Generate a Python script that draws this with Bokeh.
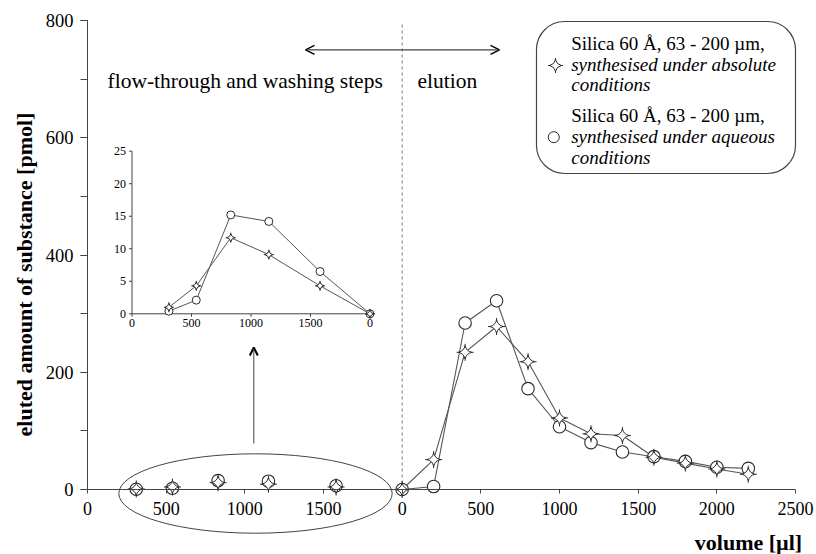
import numpy as np
from bokeh.plotting import figure
from bokeh.models import (Range1d, LinearAxis, FixedTicker, SingleIntervalTicker,
                          Label, Arrow, OpenHead, BoxAnnotation)
from bokeh.core.properties import value
from bokeh.embed import file_html
from bokeh.resources import INLINE

# ---------------- data ----------------
# flow-through and washing steps (volume in µl, amount in pmol)
ft_volume = [310, 540, 830, 1150, 1580]
ft_absolute = [1.0, 4.3, 11.7, 9.1, 4.3]
ft_aqueous = [0.4, 2.1, 15.2, 14.2, 6.5]

# elution (volume in µl, amount in pmol)
el_volume = [0, 200, 400, 600, 800, 1000, 1200, 1400, 1600, 1800, 2000, 2200]
el_absolute = [0, 51, 234, 278, 218, 122, 95, 92, 55, 45, 35, 26]
el_aqueous = [0, 5, 284, 322, 172, 107, 80, 64, 56, 48, 38, 36]

# the elution axis restarts at 0 after 2000 µl of flow-through/washing
elution_offset = 2000

x_tick_values = [0, 500, 1000, 1500, 2000, 2500, 3000, 3500, 4000, 4500]
x_tick_labels = ["0", "500", "1000", "1500", "0", "500", "1000", "1500", "2000", "2500"]
inset_x_ticks = [0, 500, 1000, 1500, 2000]
inset_x_labels = ["0", "500", "1000", "1500", "0"]
inset_y_ticks = [0, 5, 10, 15, 20, 25]

legend_title = "Silica 60 Å, 63 - 200 µm,"
legend_abs = ["synthesised under absolute", "conditions"]
legend_aq = ["synthesised under aqueous", "conditions"]

# ---------------- layout constants (pixels) ----------------
W, H = 816, 554
AX_X0, AX_X1 = 87, 795      # pixel columns of x = 0 and x = 4500
AX_Y0, AX_Y1 = 489, 20      # pixel rows of y = 0 and y = 800
X_MAX, Y_MAX = 4500, 800
SX = (AX_X1 - AX_X0) / X_MAX
SY = (AX_Y0 - AX_Y1) / Y_MAX

def mx(px):
    return (px - AX_X0) / SX

def my(py):
    return (AX_Y0 - py) / SY

# inset placement
IX0, IX1 = 131.5, 369.5      # pixel columns of inset x = 0 and 2000
IY0, IY1 = 313.3, 150.7      # pixel rows of inset y = 0 and 25
ISX = (IX1 - IX0) / 2000
ISY = (IY0 - IY1) / 25

FONT = "Liberation Serif"
AX_COL = "#444444"
LINE_COL = "#555555"
MK_COL = "#2a2a2a"

p = figure(width=W, height=H, output_backend="svg", toolbar_location=None,
           x_range=Range1d(mx(0), mx(W)), y_range=Range1d(my(H), my(0)),
           x_axis_location=None, y_axis_location=None, min_border=0)
p.outline_line_color = None
p.grid.visible = False
p.background_fill_color = "white"
p.border_fill_color = "white"

p.extra_x_ranges = {"ix": Range1d((0 - IX0) / ISX, (W - IX0) / ISX)}
p.extra_y_ranges = {"iy": Range1d((IY0 - H) / ISY, (IY0 - 0) / ISY)}

# ---------------- axes ----------------
yaxis = LinearAxis(fixed_location=0,
                   ticker=SingleIntervalTicker(interval=200, num_minor_ticks=2),
                   bounds=(0, Y_MAX),
                   major_tick_out=7, minor_tick_out=7, major_tick_in=0, minor_tick_in=0,
                   major_label_standoff=7,
                   major_label_text_font=FONT, major_label_text_font_size="18.5px",
                   major_label_text_color="black",
                   axis_line_color=AX_COL, major_tick_line_color=AX_COL,
                   minor_tick_line_color=AX_COL)
p.add_layout(yaxis, "left")

xaxis = LinearAxis(fixed_location=0, ticker=FixedTicker(ticks=x_tick_values),
                   major_label_overrides={v: t for v, t in zip(x_tick_values, x_tick_labels)},
                   bounds=(0, X_MAX),
                   major_tick_out=4, major_tick_in=0, minor_tick_out=0, minor_tick_in=0,
                   major_label_standoff=8,
                   major_label_text_font=FONT, major_label_text_font_size="18px",
                   major_label_text_color="black",
                   axis_line_color=AX_COL, major_tick_line_color=AX_COL)
p.add_layout(xaxis, "below")

# dashed separator at start of elution
p.segment(x0=[elution_offset], y0=[0], x1=[elution_offset], y1=[my(23)],
          line_color="#777777", line_dash="3 3", line_width=1)

# ---------------- main series ----------------
el_x = [elution_offset + v for v in el_volume]
p.line(el_x, el_aqueous, line_color=LINE_COL, line_width=1.1)
p.line(el_x, el_absolute, line_color=LINE_COL, line_width=1.1)

def stars(x, y, big, **kw):
    # thin four-pointed star: fine cross spikes under a pinched square
    p.scatter(x, y, marker="cross", size=big, line_color=MK_COL, line_width=1, **kw)
    p.scatter(x, y, marker="square_pin", angle=np.pi / 4, size=big * 0.55,
              fill_color="white", line_color=MK_COL, line_width=1, **kw)

p.scatter(ft_volume, ft_aqueous, marker="circle", size=12.5, fill_color="white",
          line_color=MK_COL, line_width=1.1)
p.scatter(el_x, el_aqueous, marker="circle", size=12.5, fill_color="white",
          line_color=MK_COL, line_width=1.1)
stars(ft_volume, ft_absolute, 17)
stars(el_x, el_absolute, 17)

# ellipse around flow-through points and arrow to inset
p.ellipse(x=[mx(255)], y=[my(493)], width=[273.4 / SX], height=[79.4 / SY],
          fill_color=None, line_color=AX_COL, line_width=1)
p.add_layout(Arrow(x_start=mx(253.3), y_start=my(443), x_end=mx(253.3), y_end=my(347),
                   line_color=AX_COL, line_width=1,
                   end=OpenHead(size=8, line_width=2, line_color="black")))

# ---------------- inset ----------------
in_x = ft_volume + [elution_offset]
in_abs = ft_absolute + [0]
in_aq = ft_aqueous + [0]
kw = dict(x_range_name="ix", y_range_name="iy")
p.line(x=[0, 2000], y=[0, 0], line_color=AX_COL, line_width=1, **kw)
p.line(x=[0, 0], y=[0, 25], line_color=AX_COL, line_width=1, **kw)
p.segment(x0=inset_x_ticks, y0=[0] * 5, x1=inset_x_ticks, y1=[-3 / ISY] * 5,
          line_color=AX_COL, **kw)
p.segment(x0=[0] * 6, y0=inset_y_ticks, x1=[-3 / ISX] * 6, y1=inset_y_ticks,
          line_color=AX_COL, **kw)
p.text(x=inset_x_ticks, y=[0] * 5, text=inset_x_labels, text_align="center",
       text_baseline="top", y_offset=5, text_font=value(FONT), text_font_size="12px",
       text_color="black", **kw)
p.text(x=[0] * 6, y=inset_y_ticks, text=[str(t) for t in inset_y_ticks],
       text_align="right", text_baseline="middle", x_offset=-6,
       text_font=value(FONT), text_font_size="12px", text_color="black", **kw)
p.line(in_x, in_aq, line_color=LINE_COL, line_width=1, **kw)
p.line(in_x, in_abs, line_color=LINE_COL, line_width=1, **kw)
p.scatter(in_x, in_aq, marker="circle", size=8, fill_color="white",
          line_color=MK_COL, line_width=1, **kw)
stars(in_x, in_abs, 10, **kw)

# ---------------- annotations ----------------
p.add_layout(Arrow(x_start=mx(305), y_start=my(49.3), x_end=mx(499), y_end=my(49.3),
                   line_color=AX_COL, line_width=1.2,
                   start=OpenHead(size=9, line_width=1.5, line_color="black"),
                   end=OpenHead(size=9, line_width=1.5, line_color="black")))
p.add_layout(Label(x=mx(107), y=my(80), text="flow-through and washing steps",
                   text_font=FONT, text_font_size="21.5px", text_baseline="alphabetic",
                   text_color="black"))
p.add_layout(Label(x=mx(417), y=my(80), text="elution",
                   text_font=FONT, text_font_size="21.5px", text_baseline="alphabetic",
                   text_color="black"))

p.add_layout(Label(x=mx(24), y=my(274), text="eluted amount of substance [pmol]",
                   angle=np.pi / 2, text_align="center", text_baseline="middle",
                   text_font=FONT, text_font_size="22px", text_font_style="bold",
                   text_color="black"))
p.add_layout(Label(x=mx(748), y=my(542), text="volume [µl]",
                   text_align="center", text_baseline="middle",
                   text_font=FONT, text_font_size="22px", text_font_style="bold",
                   text_color="black"))

# legend
p.add_layout(BoxAnnotation(left=mx(536), right=mx(795), top=my(21), bottom=my(173),
                           border_radius=28, fill_color=None, line_color=AX_COL,
                           line_alpha=1, line_width=1.2))
legend_rows = [(43, legend_title, "normal"), (64, legend_abs[0], "italic"),
               (84, legend_abs[1], "italic"), (115, legend_title, "normal"),
               (136, legend_aq[0], "italic"), (157, legend_aq[1], "italic")]
for py, txt, style in legend_rows:
    p.add_layout(Label(x=mx(570.7), y=my(py), text=txt, text_font=FONT,
                       text_font_size="19px", text_font_style=style,
                       text_baseline="middle", text_color="black"))
stars([mx(555)], [my(65)], 15)
p.scatter([mx(553.3)], [my(136.7)], marker="circle", size=11,
          fill_color="white", line_color=MK_COL, line_width=1)

open("out.html", "w").write(file_html(p, INLINE))
